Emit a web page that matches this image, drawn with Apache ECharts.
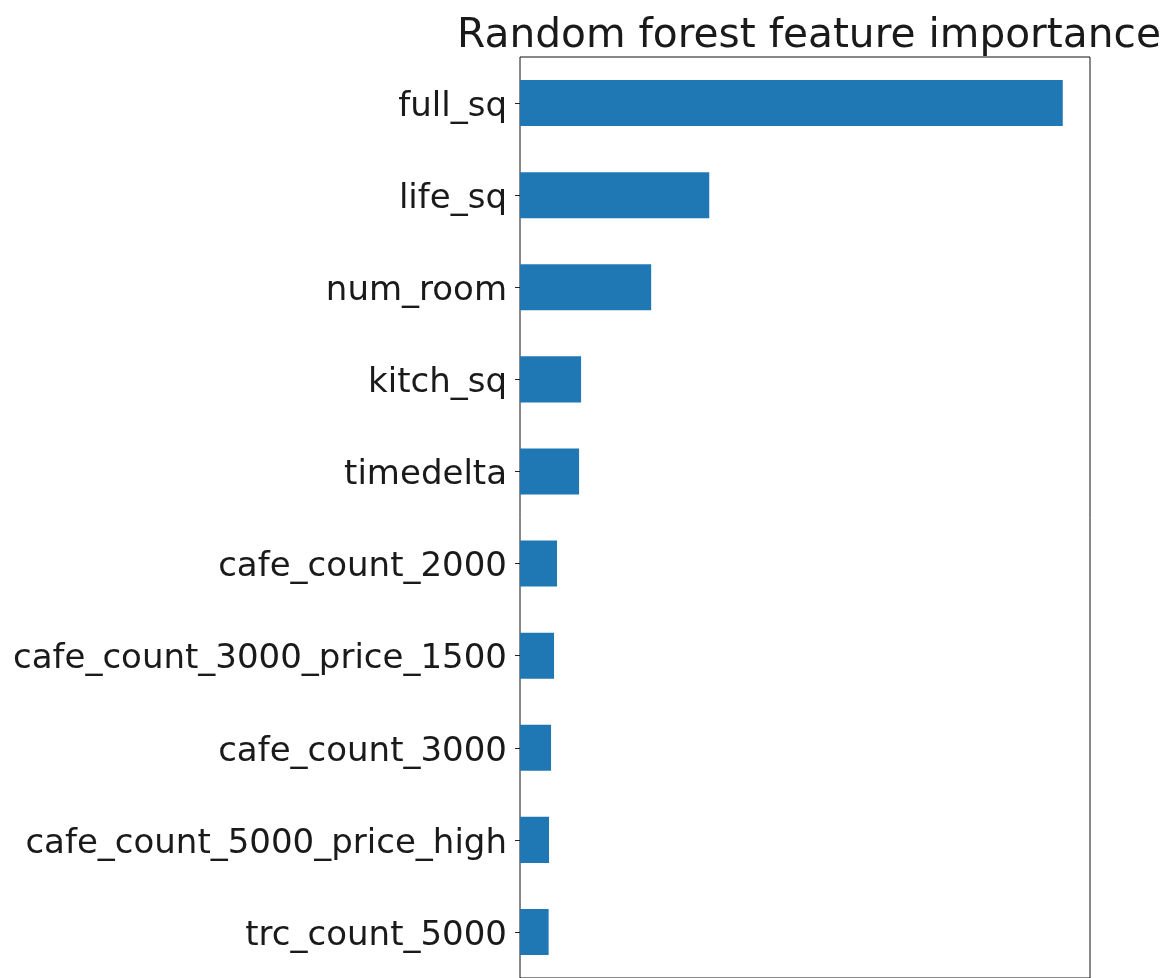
<!DOCTYPE html>
<html>
<head>
<meta charset="utf-8">
<title>Random forest feature importance</title>
<script src="https://cdn.jsdelivr.net/npm/echarts@6/dist/echarts.min.js"></script>
<style>
  html, body { margin: 0; padding: 0; background: #fff; }
</style>
</head>
<body>
<div id="main" style="width:1168px;height:978px;"></div>
<script>
// feature names, top to bottom
var features = ['full_sq', 'life_sq', 'num_room', 'kitch_sq', 'timedelta',
  'cafe_count_2000', 'cafe_count_3000_price_1500', 'cafe_count_3000',
  'cafe_count_5000_price_high', 'trc_count_5000'];
// importance values
var importance = [0.271, 0.0945, 0.0655, 0.0305, 0.0295, 0.0185, 0.017, 0.0155, 0.0145, 0.0143];

var chart = echarts.init(document.getElementById('main'));

chart.setOption({
  animation: false,
  title: {
    text: 'Random forest feature importance',
    left: 804,
    textAlign: 'center',
    top: 11,
    textStyle: {
      fontFamily: 'DejaVu Sans',
      fontSize: 40.7,
      fontWeight: 'normal',
      color: '#1a1a1a'
    }
  },
  grid: {
    left: 520,
    top: 57,
    width: 570,
    height: 925,
    show: true,
    borderColor: '#111',
    borderWidth: 1,
    containLabel: false
  },
  xAxis: {
    type: 'value',
    min: 0,
    max: 0.2846,
    axisLine: { show: false },
    axisTick: { show: false },
    axisLabel: { show: false },
    splitLine: { show: false }
  },
  yAxis: {
    type: 'category',
    inverse: true,
    data: features,
    axisLine: { show: false },
    axisTick: { show: true, alignWithLabel: true, length: 5, lineStyle: { color: '#222' } },
    axisLabel: {
      margin: 13,
      formatter: '{a|{value}}',
      rich: {
        a: {
          fontFamily: 'DejaVu Sans',
          fontSize: 34,
          color: '#1a1a1a',
          padding: [8, 0, 0, 0]
        }
      }
    }
  },
  series: [{
    type: 'bar',
    data: importance,
    barCategoryGap: '50%',
    itemStyle: { color: '#1f77b4' }
  }]
});
</script>
</body>
</html>
